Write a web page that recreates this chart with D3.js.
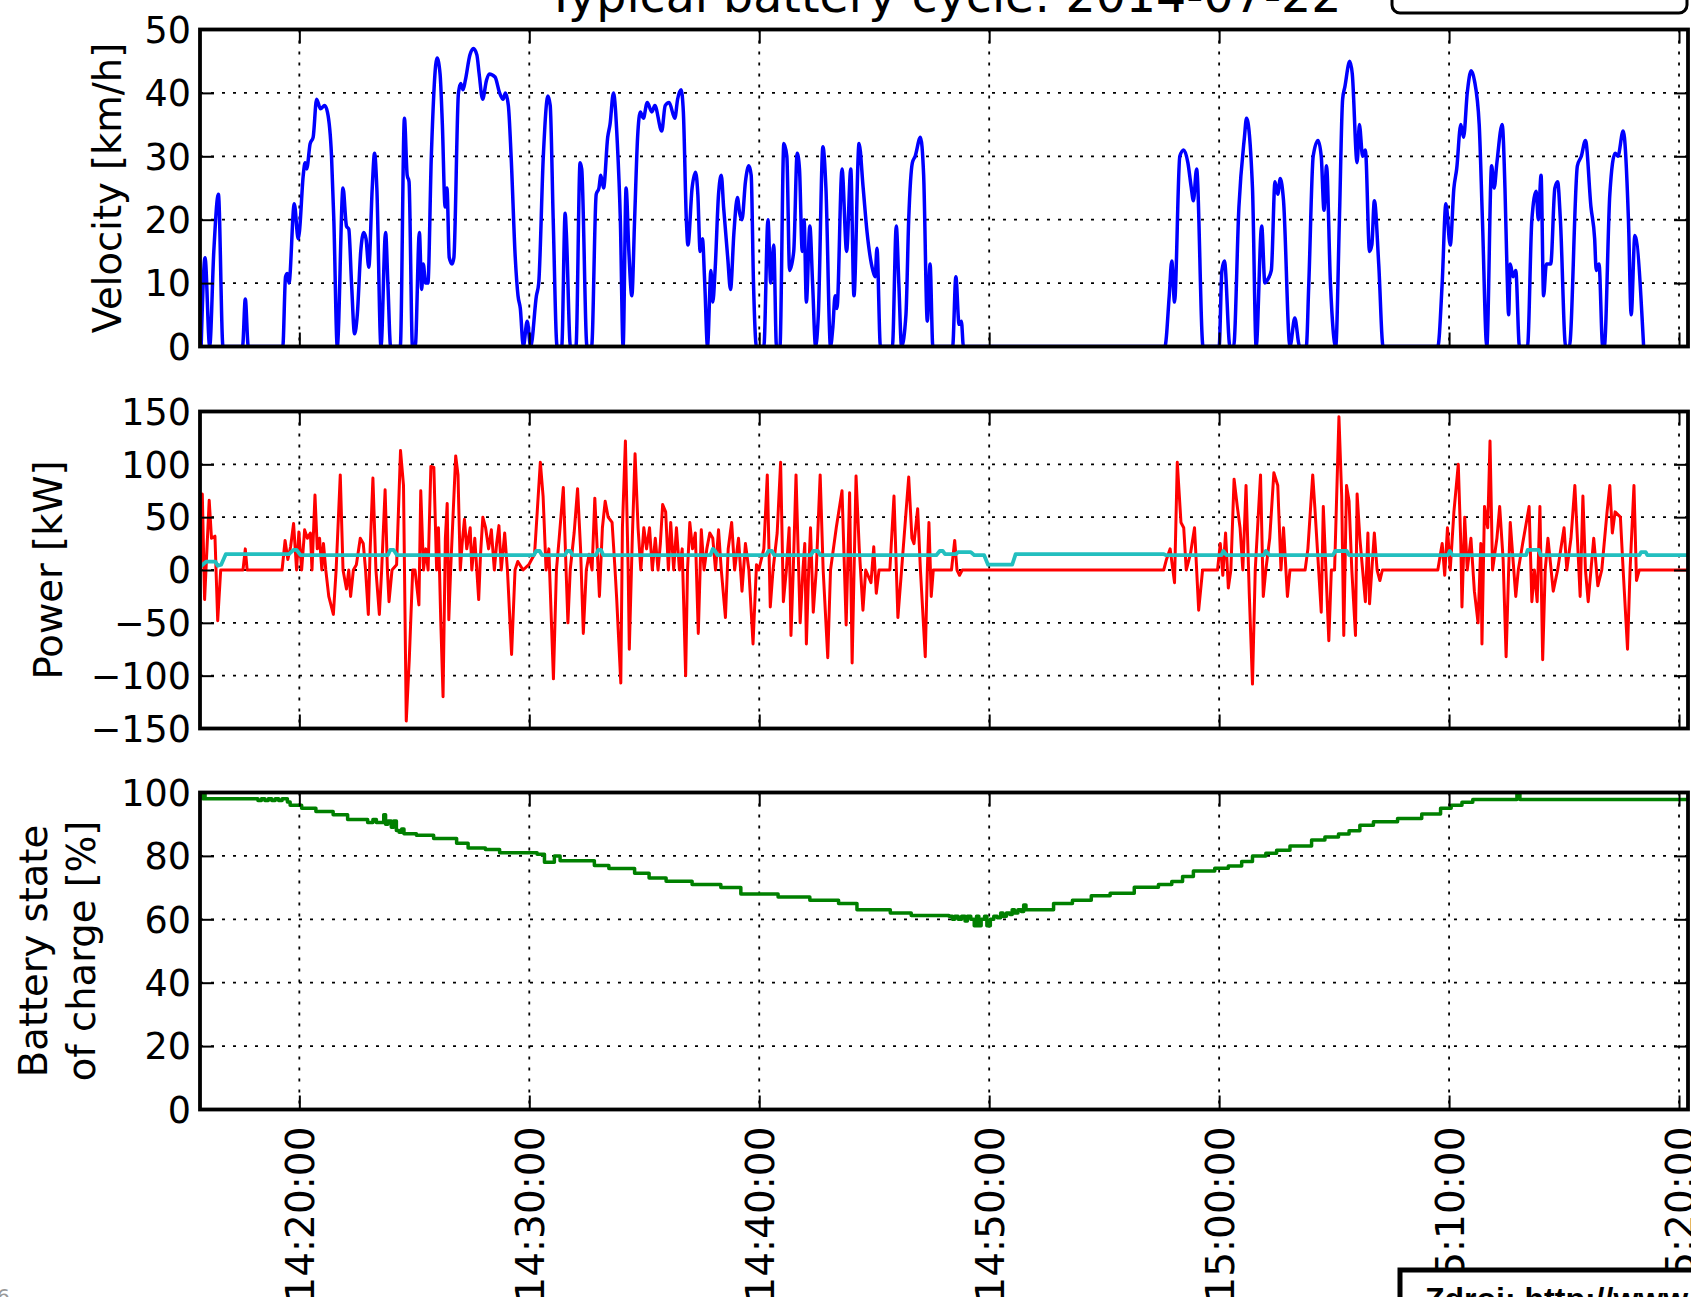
<!DOCTYPE html>
<html>
<head>
<meta charset="utf-8">
<script src="https://d3js.org/d3.v7.min.js"></script>
<style>
  body { margin: 0; background: #fff; }
  svg { display: block; font-family: "DejaVu Sans", sans-serif; }
</style>
</head>
<body>
<svg id="chart" width="1691" height="1297"></svg>
<script>
// all times are minutes after 14:00 on 2014-07-22

// velocity [km/h]
const velocity = [[15.73,0],[15.90,14],[16.10,0],[16.28,15],[16.48,24],[16.68,0],[17.53,0],[17.65,7.5],[17.78,0],
 [19.28,0],[19.40,11],[19.48,11.5],[19.55,10],[19.78,22.5],[19.95,17],[20.00,18],[20.17,27],[20.25,29],[20.32,28],
 [20.47,32],[20.60,33],[20.75,39],[20.92,37.5],[21.10,38],[21.22,37],[21.40,30],[21.50,20],[21.65,0],[21.90,25],
 [22.05,19],[22.15,18.5],[22.27,10],[22.40,2],[22.52,5],[22.67,15],[22.80,18],[22.90,17],[23.02,12.5],[23.17,25],
 [23.27,30.5],[23.37,25],[23.55,0],[23.75,18],[23.85,10],[23.97,0],[24.39,0],[24.57,36],[24.69,27],[24.77,26],
 [24.92,0],[25.04,0],[25.22,18],[25.32,9],[25.39,13],[25.49,10],[25.59,10],[25.74,30],[25.99,45.5],[26.12,43],
 [26.22,35],[26.34,22],[26.42,25],[26.52,14],[26.64,13],[26.72,14],[26.92,40],[27.02,41.5],[27.12,40.5],[27.22,42],
 [27.42,46],[27.57,47],[27.72,46],[27.82,43],[27.97,39],[28.14,42],[28.26,43],[28.51,42.5],[28.71,40],[28.86,39],
 [28.96,40],[29.09,38],[29.21,30],[29.39,14],[29.51,8],[29.61,6],[29.74,0],[29.91,4],[30.06,0],[30.31,8],[30.41,10],
 [30.61,30],[30.81,39.5],[30.91,38],[31.04,20],[31.21,0],[31.41,0],[31.56,21],[31.61,18],[31.79,0],[32.03,0],
 [32.21,29],[32.28,28],[32.51,0],[32.71,0],[32.91,24],[33.03,25],[33.11,27],[33.23,25],[33.41,33],[33.51,35],
 [33.66,40],[33.83,32],[33.96,20],[34.08,0],[34.21,25],[34.33,15],[34.46,8],[34.58,20],[34.71,33],[34.83,37],
 [34.96,36],[35.13,38.5],[35.33,37],[35.46,38],[35.76,34],[35.91,38],[36.08,38.5],[36.33,36],[36.45,39],[36.60,40.5],
 [36.70,37],[36.83,20],[36.90,16],[37.08,25],[37.23,27.5],[37.33,24],[37.43,15],[37.53,17],[37.63,10],[37.75,0],
 [37.90,12],[37.98,7],[38.08,12],[38.23,24],[38.35,27],[38.45,22],[38.63,14],[38.75,9],[38.90,18],[39.05,23.5],
 [39.15,21],[39.25,20],[39.40,26],[39.55,28.5],[39.65,27],[39.75,10],[39.88,0],[40.20,0],[40.38,20],[40.50,10],
 [40.63,16],[40.75,0],[40.90,0],[41.07,32],[41.20,30],[41.32,12],[41.50,15],[41.65,30.5],[41.75,28],[41.87,15],
 [41.95,20],[42.05,7],[42.20,19],[42.32,10],[42.45,0],[42.57,5],[42.77,31.5],[42.90,25],[43.10,0],[43.20,3],
 [43.30,8],[43.38,6],[43.60,28],[43.80,15],[43.98,28],[44.12,8],[44.34,32],[44.52,25],[44.69,18],[44.94,12],
 [45.04,11],[45.12,15.5],[45.27,0],[45.79,0],[45.96,19],[46.07,10],[46.19,0],[46.38,5],[46.50,20],[46.66,29],
 [46.78,30],[47.01,33],[47.15,27],[47.31,4],[47.43,13],[47.55,0],[48.41,0],[48.55,11],[48.69,3.5],[48.79,4],
 [48.88,0],[57.64,0],[57.83,8],[57.94,13.5],[58.06,7],[58.29,30],[58.46,31],[58.64,29],[58.79,25],[58.88,23],
 [59.02,28],[59.30,0],[60.00,0],[60.12,12],[60.23,13.5],[60.47,0],[60.63,0],[60.86,22],[61.10,33],[61.19,36],
 [61.45,25],[61.61,0],[61.85,19],[61.99,10],[62.10,10.5],[62.27,12],[62.43,26],[62.55,24],[62.66,26.5],[62.80,23],
 [63.08,0],[63.29,4.5],[63.50,0],[63.79,0],[63.90,10],[64.09,30],[64.30,32.5],[64.44,30],[64.56,21.5],[64.67,28.5],
 [64.84,10],[65.07,0],[65.23,20],[65.37,39],[65.47,41],[65.68,45],[65.79,43],[66.00,29],[66.10,35],[66.24,30],
 [66.36,31],[66.54,15],[66.64,16],[66.75,23],[66.94,13],[67.13,0],[69.51,0],[69.70,10],[69.86,22.5],[70.05,16],
 [70.21,25],[70.33,28],[70.51,35],[70.63,33],[70.79,40],[70.96,43.5],[71.10,42],[71.31,35],[71.45,20],[71.64,0],
 [71.85,28.5],[71.96,25],[72.08,29],[72.31,35],[72.43,25],[72.52,12],[72.59,5],[72.66,13],[72.78,11],[72.90,12],
 [73.06,0],[73.41,0],[73.60,20],[73.79,24.5],[73.88,20],[74.00,27],[74.11,8],[74.23,13],[74.42,13],[74.60,25],
 [74.72,26],[74.84,20],[75.07,0],[75.23,0],[75.58,28.5],[75.75,30],[75.93,32.5],[76.17,22],[76.33,17],[76.40,12],
 [76.52,13],[76.68,0],[76.75,0],[76.99,24],[77.22,30.5],[77.34,30],[77.57,34],[77.80,20],[77.92,5],[78.08,17.5],
 [78.46,0]];

// traction power [kW]
const power = [[15.70,0],[15.78,72],[15.88,-28],[16.08,66],[16.18,30],[16.33,32],[16.45,-48],[16.58,0],[17.55,0],
 [17.65,20],[17.73,0],[19.25,0],[19.38,28],[19.50,10],[19.62,22],[19.75,44],[19.88,0],[19.98,36],[20.10,0],[20.23,38],
 [20.35,30],[20.48,35],[20.55,0],[20.68,71],[20.78,20],[20.88,30],[20.98,0],[21.05,25],[21.15,0],[21.28,-25],
 [21.48,-42],[21.60,0],[21.78,90],[21.90,0],[22.05,-18],[22.15,0],[22.23,-25],[22.35,0],[22.48,5],[22.65,30],
 [22.78,25],[22.88,0],[23.00,-42],[23.08,20],[23.20,87],[23.33,0],[23.48,-42],[23.58,0],[23.73,76],[23.83,0],
 [23.90,-30],[24.03,0],[24.23,5],[24.40,113],[24.53,80],[24.65,-143],[24.78,-85],[24.93,0],[25.03,0],[25.20,-33],
 [25.28,75],[25.40,0],[25.50,20],[25.60,0],[25.72,98],[25.85,97],[25.97,0],[26.05,40],[26.15,-48],[26.25,-120],[26.35,30],
 [26.43,63],[26.50,-47],[26.58,0],[26.80,108],[26.90,90],[27.00,0],[27.08,25],[27.18,48],[27.28,20],[27.43,40],[27.50,0],
 [27.63,30],[27.80,-28],[27.88,15],[27.98,50],[28.10,40],[28.23,20],[28.35,38],[28.48,0],[28.58,25],[28.68,42],[28.78,0],
 [28.93,35],[29.05,0],[29.23,-80],[29.38,0],[29.50,8],[29.73,0],[29.98,5],[30.10,10],[30.23,15],[30.48,102],[30.60,70],
 [30.73,0],[30.85,20],[31.05,-103],[31.18,0],[31.30,30],[31.48,78],[31.60,0],[31.68,-50],[31.78,0],[31.95,35],[32.10,77],[32.23,20],
 [32.35,-60],[32.48,0],[32.60,15],[32.73,0],[32.85,68],[33.05,-25],[33.18,40],[33.30,65],[33.43,50],[33.60,45],[33.73,0],[33.80,-27],
 [33.98,-107],[34.05,40],[34.18,122],[34.30,0],[34.35,-75],[34.48,30],[34.60,110],[34.73,40],[34.85,0],[34.98,40],[35.10,20],
 [35.23,40],[35.35,0],[35.48,30],[35.60,0],[35.70,25],[35.80,62],[35.93,55],[36.05,0],[36.15,45],[36.28,0],[36.40,40],
 [36.53,0],[36.65,20],[36.80,-100],[36.88,0],[36.98,45],[37.10,20],[37.22,35],[37.35,-60],[37.48,38],[37.60,0],[37.72,20],[37.85,35],[37.98,30],
 [38.10,0],[38.23,38],[38.35,0],[38.53,-45],[38.65,20],[38.80,45],[38.93,0],[39.10,30],[39.25,-20],[39.40,25],[39.55,0],
 [39.73,-70],[39.88,5],[39.98,0],[40.20,20],[40.35,90],[40.48,-35],[40.60,0],[40.78,35],[40.93,102],[41.05,-30],[41.18,0],[41.30,40],
 [41.38,-62],[41.48,0],[41.60,90],[41.78,-50],[41.90,0],[41.98,25],[42.05,-70],[42.15,0],[42.23,40],[42.35,-40],
 [42.48,0],[42.65,90],[42.78,0],[42.98,-83],[43.10,0],[43.35,40],[43.60,75],[43.78,-52],[43.93,73],[44.04,-88],
 [44.21,89],[44.35,20],[44.51,-38],[44.63,0],[44.86,-12],[44.98,22],[45.09,-22],[45.21,0],[45.68,0],[45.86,70],
 [46.03,-45],[46.19,0],[46.50,88],[46.64,30],[46.73,25],[46.89,58],[47.01,0],[47.22,-82],[47.31,0],[47.38,45],
 [47.48,-25],[47.57,0],[48.36,0],[48.50,28],[48.60,0],[48.71,-5],[48.83,0],[57.59,0],[57.71,10],[57.87,20],
 [58.06,-12],[58.18,102],[58.34,45],[58.46,40],[58.57,0],[58.75,15],[58.93,40],[59.11,-38],[59.28,0],[59.93,0],[60.05,25],
 [60.16,-5],[60.28,35],[60.40,-17],[60.51,0],[60.65,86],[60.79,60],[60.91,40],[61.03,0],[61.17,80],[61.31,-22],
 [61.45,-108],[61.57,0],[61.80,90],[61.92,-25],[62.03,0],[62.20,30],[62.38,92],[62.55,80],[62.69,0],[62.80,40],[62.97,-25],
 [63.08,0],[63.74,0],[63.86,20],[64.07,90],[64.16,60],[64.30,10],[64.44,-40],[64.53,60],[64.77,-67],[64.88,0],
 [65.02,0],[65.21,145],[65.33,70],[65.42,-62],[65.54,80],[65.65,65],[65.77,0],[65.93,-62],[66.00,72],[66.12,30],
 [66.24,0],[66.36,-30],[66.47,35],[66.54,-32],[66.75,35],[66.87,0],[66.99,-10],[67.10,0],[69.51,0],[69.70,25],
 [69.81,-5],[69.93,40],[70.05,0],[70.21,55],[70.40,100],[70.51,25],[70.56,-35],[70.68,50],[70.79,0],[70.95,30],[71.10,-20],[71.26,-50],
 [71.38,25],[71.43,-70],[71.54,60],[71.68,40],[71.78,122],[71.89,0],[72.08,30],[72.20,60],[72.35,10],[72.48,-82],[72.59,0],
 [72.66,45],[72.90,-25],[73.01,0],[73.20,25],[73.48,60],[73.60,-30],[73.71,0],[73.83,-30],[73.95,60],[74.07,-85],[74.18,0],
 [74.30,30],[74.53,-20],[74.72,0],[75.00,40],[75.12,0],[75.30,30],[75.47,80],[75.70,-25],[75.82,70],[75.93,0],[76.05,-30],
 [76.17,0],[76.29,30],[76.47,-15],[76.64,0],[76.87,55],[76.99,80],[77.10,35],[77.22,55],[77.45,50],[77.57,0],
 [77.76,-75],[77.87,0],[78.04,80],[78.15,-10],[78.27,0],[80.39,0]];

// auxiliary power [kW] (cyan)
const auxPower = [[15.70,3],[15.80,5],[15.95,8],[16.35,8],[16.45,4],[16.60,5],[16.80,15],[19.55,15],[19.75,19],
 [19.88,19],[20.05,14],[23.85,14],[23.95,19],[24.10,19],[24.25,14],[30.20,14],[30.30,18],[30.45,18],[30.55,14],
 [31.55,14],[31.65,18],[31.78,18],[31.88,14],[32.90,14],[33.00,19],[33.12,19],[33.22,14],[37.88,14],[37.98,20],
 [38.08,18],[38.18,14],[40.30,14],[40.40,18],[40.55,18],[40.65,14],[42.25,14],[42.35,18],[42.55,18],[42.65,14],
 [47.70,14],[47.85,18],[47.98,18],[48.08,15],[48.55,15],[48.65,17],[49.20,17],[49.35,14],[49.78,14],[49.95,5],
 [51.00,5],[51.15,15],[57.60,15],[57.70,14],[60.10,14],[60.18,18],[60.32,14],[61.95,14],[62.03,18],[62.20,14],
 [64.95,14],[65.05,18],[65.55,18],[65.65,14],[69.95,14],[70.03,18],[70.15,14],[73.35,14],[73.42,19],[73.90,19],
 [73.98,14],[78.28,14],[78.35,17],[78.55,17],[78.62,14],[80.39,14]];

// battery state of charge [%], value holds from given time on
const soc = [[15.70,100],[15.80,98],[15.85,100],[15.90,98],[18.20,97.5],[18.35,98],[18.50,97.5],[18.65,98],
 [18.80,97.5],[18.95,98],[19.10,97.5],[19.25,98],[19.48,97],[19.60,96],[20.10,95],[20.72,94],[21.47,93],[22.10,91.5],
 [22.97,90.5],[23.20,91.5],[23.35,90.5],[23.67,93],[23.75,90],[23.85,91],[24.00,89],[24.10,91],[24.22,88],
 [24.34,87.5],[24.45,88.5],[24.55,87],[25.09,86.5],[25.84,85.5],[26.84,84],[27.34,82.5],[28.09,82],[28.71,81],
 [30.34,80.5],[30.66,78],[31.09,80],[31.34,78.5],[32.83,77],[33.46,76],[34.58,74.5],[35.21,73],[35.95,72],[37.08,71],
 [38.33,70],[39.20,68],[40.82,67],[42.20,66],[43.45,65],[44.25,63],[45.70,62],[46.61,61.2],[48.25,61],[48.40,60],
 [48.50,61],[48.65,60],[48.80,61],[48.95,59.5],[49.05,61],[49.20,60],[49.35,58],[49.45,61],[49.55,58],[49.65,60],
 [49.80,61],[49.90,58],[50.05,60],[50.20,61],[50.35,60.5],[50.50,62],[50.60,61],[50.75,62],[50.90,61.5],[51.00,63],
 [51.10,62],[51.25,63],[51.40,62.5],[51.50,64.5],[51.60,63],[52.80,65],[53.62,66],[54.44,67.4],[55.26,68.2],
 [56.31,70.1],[57.36,71],[57.94,71.9],[58.41,73.5],[58.88,75.2],[59.81,76.1],[60.40,76.8],[60.98,78.2],[61.45,80],
 [62.03,80.8],[62.50,81.8],[63.08,83.1],[64.02,85],[64.60,86],[65.19,86.9],[65.65,87.9],[66.12,89.7],[66.71,90.8],
 [67.76,91.8],[68.81,93.2],[69.63,95],[70.09,96],[70.56,96.9],[71.03,97.8],[72.95,100],[73.08,97.8],[80.39,97.8]];

// axis ticks
const timeTicks = ["14:20:00","14:30:00","14:40:00","14:50:00","15:00:00","15:10:00","15:20:00"];
const velocityTicks = [0,10,20,30,40,50];
const powerTicks = [-150,-100,-50,0,50,100,150];
const socTicks = [0,20,40,60,80,100];

let svg = d3.select("svg#chart");
let parseTime = d3.timeParse("%Y-%m-%d %H:%M:%S");
let t0 = parseTime("2014-07-22 14:00:00");
function toTime(m) { return new Date(t0.getTime() + m * 60000); }

let plot = {"left": 200, "right": 1688, "height": 317};
let xScale = d3.scaleTime()
    .domain([toTime(15.68), toTime(80.39)])
    .range([plot.left, plot.right]);
let tickDates = timeTicks.map(s => parseTime("2014-07-22 " + s));

let panels = [
  {"id": "v", "top": 29.5, "domain": [0, 50], "ticks": velocityTicks, "label": ["Velocity [km/h]"], "labelX": [121],
   "series": [{"data": velocity, "color": "#0000ff", "width": 3.5, "curve": d3.curveMonotoneX}]},
  {"id": "p", "top": 411.5, "domain": [-150, 150], "ticks": powerTicks, "label": ["Power [kW]"], "labelX": [62],
   "series": [{"data": power, "color": "#ff0000", "width": 3, "curve": d3.curveLinear},
              {"data": auxPower, "color": "#22bfbf", "width": 3.8, "curve": d3.curveLinear}]},
  {"id": "s", "top": 792.5, "domain": [0, 100], "ticks": socTicks, "label": ["Battery state", "of charge [%]"], "labelX": [47, 95],
   "series": [{"data": soc, "color": "#008000", "width": 3.5, "curve": d3.curveStepAfter}]}
];

let fmt = d => String(d).replace("-", "\u2212");

panels.forEach(function(p, idx) {
  let yScale = d3.scaleLinear().domain(p.domain).range([p.top + plot.height, p.top]);
  let w = plot.right - plot.left;

  svg.append("clipPath").attr("id", "clip-" + p.id)
    .append("rect")
    .attr("x", plot.left).attr("y", p.top)
    .attr("width", w).attr("height", plot.height);

  //grid lines
  tickDates.forEach(function(t) {
    svg.append("line")
      .attr("x1", xScale(t)).attr("x2", xScale(t))
      .attr("y1", p.top).attr("y2", p.top + plot.height)
      .style("stroke", "#000").style("stroke-width", 1.8)
      .style("stroke-dasharray", "3,8");
  });
  p.ticks.forEach(function(v) {
    svg.append("line")
      .attr("x1", plot.left).attr("x2", plot.right)
      .attr("y1", yScale(v)).attr("y2", yScale(v))
      .style("stroke", "#000").style("stroke-width", 1.8)
      .style("stroke-dasharray", "3,8");
  });

  //data lines
  p.series.forEach(function(s) {
    let line = d3.line()
      .x(d => xScale(toTime(d[0])))
      .y(d => yScale(d[1]))
      .curve(s.curve);
    svg.append("path")
      .datum(s.data)
      .attr("d", line)
      .attr("clip-path", "url(#clip-" + p.id + ")")
      .style("fill", "none")
      .style("stroke", s.color)
      .style("stroke-width", s.width)
      .style("stroke-linejoin", "round");
  });

  //ticks on all four sides, pointing inward
  let yAxisL = d3.axisLeft(yScale).tickValues(p.ticks).tickSize(-14).tickPadding(9).tickFormat(fmt);
  let gl = svg.append("g").attr("transform", "translate(" + plot.left + ",0)").call(yAxisL);
  let yAxisR = d3.axisRight(yScale).tickValues(p.ticks).tickSize(-14).tickFormat("");
  let gr = svg.append("g").attr("transform", "translate(" + plot.right + ",0)").call(yAxisR);
  let xAxisT = d3.axisTop(xScale).tickValues(tickDates).tickSize(-14).tickFormat("");
  let gt = svg.append("g").attr("transform", "translate(0," + p.top + ")").call(xAxisT);
  let xAxisB = d3.axisBottom(xScale).tickValues(tickDates).tickSize(-14).tickFormat(d3.timeFormat("%H:%M:%S"));
  let gb = svg.append("g").attr("transform", "translate(0," + (p.top + plot.height) + ")").call(xAxisB);

  [gl, gr, gt, gb].forEach(function(g) {
    g.select(".domain").remove();
    g.selectAll("line").style("stroke", "#000").style("stroke-width", 2);
    g.attr("font-family", "DejaVu Sans, sans-serif");
  });
  gl.attr("font-size", 36.5);
  gl.selectAll("text").attr("dy", "0.35em").style("fill", "#000");

  if (idx == panels.length - 1) {
    gb.attr("font-size", 39);
    gb.selectAll("text")
      .attr("transform", "rotate(-90)")
      .attr("x", -17).attr("y", 0).attr("dy", "0.36em")
      .style("text-anchor", "end").style("fill", "#000");
  } else {
    gb.selectAll("text").remove();
  }

  //frame
  svg.append("rect")
    .attr("x", plot.left).attr("y", p.top)
    .attr("width", w).attr("height", plot.height)
    .style("fill", "none").style("stroke", "#000").style("stroke-width", 3.8);

  //y label
  let yc = p.top + plot.height / 2;
  p.label.forEach(function(txt, i) {
    svg.append("text")
      .attr("transform", "translate(" + p.labelX[i] + "," + yc + ") rotate(-90)")
      .attr("text-anchor", "middle")
      .attr("font-size", 38.5)
      .text(txt);
  });
});

//title
svg.append("text")
  .attr("x", (plot.left + plot.right) / 2).attr("y", 12)
  .attr("text-anchor", "middle")
  .attr("font-size", 47.5)
  .text("Typical battery cycle: 2014-07-22");

//legend box, cut by the top edge
svg.append("rect")
  .attr("x", 1392).attr("y", -40).attr("width", 295).attr("height", 53)
  .attr("rx", 8)
  .style("fill", "#fff").style("stroke", "#000").style("stroke-width", 3);

//source box at bottom right
svg.append("rect")
  .attr("x", 1400).attr("y", 1270).attr("width", 320).attr("height", 80)
  .style("fill", "#fff").style("stroke", "#000").style("stroke-width", 5);
svg.append("text")
  .attr("x", 1425).attr("y", 1310)
  .attr("font-family", "Liberation Sans, Arial, sans-serif")
  .attr("font-weight", "bold")
  .attr("font-size", 32)
  .text("Zdroj: http://www.");

//page number, cut at the corner
svg.append("text")
  .attr("x", -3).attr("y", 1303)
  .attr("font-size", 20)
  .style("fill", "#999")
  .text("6");
</script>
</body>
</html>
